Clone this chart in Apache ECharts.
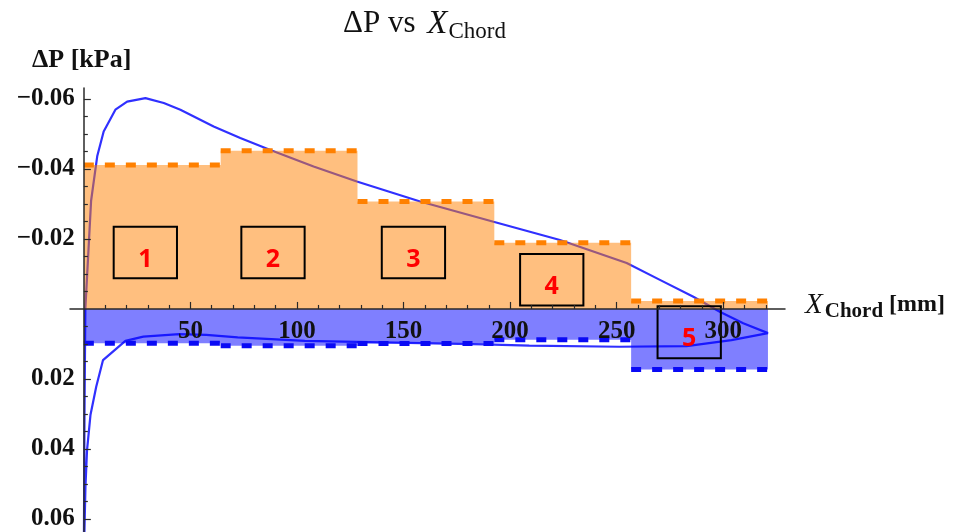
<!DOCTYPE html>
<html>
<head>
<meta charset="utf-8">
<title>ΔP vs X Chord</title>
<script src="https://cdn.jsdelivr.net/npm/echarts@6/dist/echarts.min.js"></script>
<style>
    html, body { margin: 0; padding: 0; background: #fff; }
    #main { width: 956px; height: 532px; }
</style>
</head>
<body>
<div id="main"></div>
<script type="text/javascript">
    // panel edges along the chord [mm]
    var panelEdges = [0, 64.2, 128.4, 192.6, 256.8, 321];
    // mean ΔP of each panel [kPa]: suction side (negative) and pressure side
    var suctionMean = [-0.0411, -0.0452, -0.0307, -0.0189, -0.0023];
    var pressureMean = [0.0098, 0.0105, 0.0099, 0.0088, 0.0173];

    // ΔP around the profile: upper side to trailing edge, then back along the lower side
    var curveX = [0, 0.3, 0.7, 3.4, 6.3, 9.3, 14.8, 20.3, 28.9, 37.5, 45.3, 60.9, 73.4, 87.5, 107.8, 128.1,
        157.8, 192.2, 223.4, 254.7, 270.3, 286, 298.4, 309.4, 321,
        303.9, 282.8, 251.2, 209, 188, 145.9, 103.7, 72.2, 57.4, 44.8, 27.9, 19.5, 9, 5.8, 3.1, 1.5, 0.75, 0.3, 0];
    var curveP = [0.07, 0.03, 0, -0.0309, -0.0437, -0.0507, -0.0569, -0.0592, -0.0602, -0.0588, -0.0569, -0.0521, -0.0488, -0.0454, -0.0407, -0.0364,
        -0.0307, -0.0249, -0.0197, -0.0131, -0.0083, -0.0035, 0.0008, 0.0041, 0.0069,
        0.0089, 0.0106, 0.0108, 0.0105, 0.0101, 0.0096, 0.0091, 0.0081, 0.0074, 0.0072, 0.0079, 0.0091, 0.0146, 0.0222, 0.0303, 0.0403, 0.0508, 0.063, 0.075];

    // numbered panel boxes (chord range, ΔP range)
    var boxLabels = ['1', '2', '3', '4', '5'];
    var boxX = [[14.0, 43.7], [73.9, 103.6], [139.8, 169.5], [204.7, 234.4], [269.2, 298.9]];
    var boxP = [[-0.0235, -0.0088], [-0.0235, -0.0088], [-0.0235, -0.0088], [-0.0157, -0.0010], [-0.0008, 0.0141]];

    // ticks
    var xTicks = [50, 100, 150, 200, 250, 300];
    var xMinorTicks = [10, 20, 30, 40, 60, 70, 80, 90, 110, 120, 130, 140, 160, 170, 180, 190,
        210, 220, 230, 240, 260, 270, 280, 290, 310, 320];
    var yTicks = [-0.06, -0.04, -0.02, 0.02, 0.04, 0.06];
    var yMinorTicks = [-0.055, -0.05, -0.045, -0.035, -0.03, -0.025, -0.015, -0.01, -0.005,
        0.005, 0.01, 0.015, 0.025, 0.03, 0.035, 0.045, 0.05, 0.055];

    var X_MIN = -6.5, X_MAX = 329, Y_MIN = -0.0631, Y_MAX = 0.0637;
    var SERIF = '"Liberation Serif", "Times New Roman", serif';
    var AXIS_COLOR = '#2a2a2a';

    var gridBox = { left: 70, right: 171, top: 88, bottom: 0, outerBoundsMode: 'none', containLabel: false };
    // labels of an onZero axis sit at the grid edge, pull them back onto the zero lines
    var gridH = 532 - gridBox.top - gridBox.bottom;
    var yZeroPx = gridBox.top + gridH * (0 - Y_MIN) / (Y_MAX - Y_MIN);
    var xZeroPx = gridBox.left + (956 - gridBox.left - gridBox.right) * (0 - X_MIN) / (X_MAX - X_MIN);
    var xLabelMargin = 10 - (532 - gridBox.bottom - yZeroPx);
    var yLabelMargin = 9 - (xZeroPx - gridBox.left);

    function stepData(vals) {
        var out = [];
        for (var i = 0; i < vals.length; i++) {
            out.push([panelEdges[i], vals[i]]);
            out.push([panelEdges[i + 1], vals[i]]);
        }
        return out;
    }

    var curveData = curveX.map(function (x, i) { return [x, curveP[i]]; });
    var boxData = boxX.map(function (bx, i) { return [bx[0], bx[1], boxP[i][0], boxP[i][1]]; });

    var series = [
        {
            type: 'line', xAxisIndex: 0, yAxisIndex: 0, z: 1,
            data: curveData, showSymbol: false, symbol: 'none',
            lineStyle: { color: '#3030ff', width: 2.2 }
        },
        {
            type: 'line', xAxisIndex: 0, yAxisIndex: 0, z: 2,
            data: stepData(suctionMean), symbol: 'none',
            lineStyle: { width: 0 },
            areaStyle: { color: 'rgba(255,128,0,0.5)', opacity: 1 }
        },
        {
            type: 'line', xAxisIndex: 0, yAxisIndex: 0, z: 2,
            data: stepData(pressureMean), symbol: 'none',
            lineStyle: { width: 0 },
            areaStyle: { color: 'rgba(0,0,255,0.5)', opacity: 1 }
        }
    ];

    // dashed mean levels, one piece per panel
    [[suctionMean, '#ff8000'], [pressureMean, '#0a0af5']].forEach(function (pair) {
        pair[0].forEach(function (v, i) {
            series.push({
                type: 'line', xAxisIndex: 0, yAxisIndex: 0, z: 3,
                data: [[panelEdges[i], v], [panelEdges[i + 1], v]],
                symbol: 'none',
                lineStyle: { color: pair[1], width: 5, type: [10, 11] }
            });
        });
    });

    series.push({
        type: 'custom', xAxisIndex: 0, yAxisIndex: 0, z: 4, clip: false,
        encode: { x: [0, 1], y: [2, 3] },
        data: boxData,
        renderItem: function (params, api) {
            var p0 = api.coord([api.value(0), api.value(2)]);
            var p1 = api.coord([api.value(1), api.value(3)]);
            var x = Math.min(p0[0], p1[0]), y = Math.min(p0[1], p1[1]);
            var w = Math.abs(p1[0] - p0[0]), h = Math.abs(p1[1] - p0[1]);
            return {
                type: 'group',
                children: [
                    { type: 'rect', shape: { x: x, y: y, width: w, height: h },
                      style: { fill: 'none', stroke: '#000', lineWidth: 2 } },
                    { type: 'text',
                      style: { text: boxLabels[params.dataIndex], x: x + w / 2, y: y + h / 2 + 7,
                               fill: '#ff0000', font: 'bold 25px "Open Sans", sans-serif',
                               align: 'center', verticalAlign: 'middle' } }
                ]
            };
        }
    });

    var myChart = echarts.init(document.getElementById('main'), null, { renderer: 'canvas' });

    var option = {
        animation: false,
        backgroundColor: '#ffffff',
        title: [
            {
                text: '{a|ΔP vs }{i|X}{s|Chord}',
                left: 343, top: 5, padding: 0,
                textStyle: {
                    fontWeight: 'normal',
                    rich: {
                        a: { fontFamily: SERIF, fontSize: 31, fontWeight: 'normal', color: '#111', lineHeight: 38 },
                        i: { fontFamily: SERIF, fontSize: 33, fontWeight: 'normal', fontStyle: 'italic', color: '#111', lineHeight: 38, padding: [0, 1, 0, 4] },
                        s: { fontFamily: SERIF, fontSize: 23, fontWeight: 'normal', color: '#111', lineHeight: 21, verticalAlign: 'bottom' }
                    }
                }
            },
            {
                text: 'ΔP [kPa]',
                left: 32, top: 47, padding: 0,
                textStyle: { fontFamily: SERIF, fontSize: 26, fontWeight: 'bold', color: '#111' }
            }
        ],
        grid: [gridBox, Object.assign({}, gridBox)],
        xAxis: [
            {
                type: 'value', gridIndex: 0, min: X_MIN, max: X_MAX, z: 10,
                name: '{x|X}{s|Chord}{u| [mm]}',
                nameLocation: 'end', nameGap: 20,
                nameTextStyle: {
                    padding: [0, 0, 8, 0],
                    rich: {
                        x: { fontFamily: SERIF, fontSize: 29, fontStyle: 'italic', color: '#111', lineHeight: 34, padding: [0, 2, 0, 0] },
                        s: { fontFamily: SERIF, fontSize: 21, fontWeight: 'bold', color: '#111', lineHeight: 16, verticalAlign: 'bottom' },
                        u: { fontFamily: SERIF, fontSize: 24, fontWeight: 'bold', color: '#111', lineHeight: 34 }
                    }
                },
                axisLine: { show: true, onZero: true, lineStyle: { color: AXIS_COLOR, width: 1.5 } },
                axisTick: { show: true, inside: true, length: 7, customValues: xTicks, lineStyle: { color: AXIS_COLOR, width: 1.2 } },
                axisLabel: { show: true, customValues: xTicks, margin: xLabelMargin, fontFamily: SERIF, fontSize: 25, fontWeight: 'bold', color: '#111' },
                splitLine: { show: false }
            },
            {
                type: 'value', gridIndex: 1, min: X_MIN, max: X_MAX, z: 10,
                axisLine: { show: false, onZero: true },
                axisTick: { show: true, inside: true, length: 4, customValues: xMinorTicks, lineStyle: { color: AXIS_COLOR, width: 1.2 } },
                axisLabel: { show: false },
                splitLine: { show: false }
            }
        ],
        yAxis: [
            {
                type: 'value', gridIndex: 0, inverse: true, min: Y_MIN, max: Y_MAX, z: 10,
                axisLine: { show: true, onZero: true, lineStyle: { color: AXIS_COLOR, width: 1.5 } },
                axisTick: { show: true, inside: true, length: 7, customValues: yTicks, lineStyle: { color: AXIS_COLOR, width: 1.2 } },
                axisLabel: {
                    show: true, customValues: yTicks, margin: yLabelMargin,
                    fontFamily: SERIF, fontSize: 25, fontWeight: 'bold', color: '#111',
                    formatter: function (v) {
                        return v < 0 ? '\u2212' + (-v).toFixed(2) : v.toFixed(2);
                    }
                },
                splitLine: { show: false }
            },
            {
                type: 'value', gridIndex: 1, inverse: true, min: Y_MIN, max: Y_MAX, z: 10,
                axisLine: { show: false, onZero: true },
                axisTick: { show: true, inside: true, length: 4, customValues: yMinorTicks, lineStyle: { color: AXIS_COLOR, width: 1.2 } },
                axisLabel: { show: false },
                splitLine: { show: false }
            }
        ],
        series: series
    };

    myChart.setOption(option);
</script>
</body>
</html>
